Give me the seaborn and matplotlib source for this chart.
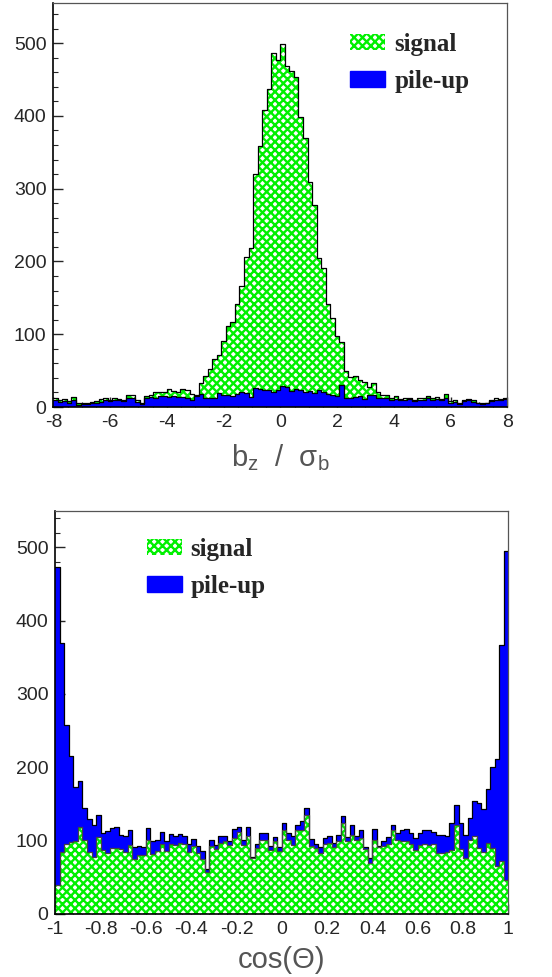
import numpy as np
import pandas as pd
import matplotlib
matplotlib.use("Agg")
import matplotlib.pyplot as plt
import seaborn as sns
from matplotlib.patches import Patch
from matplotlib.ticker import MultipleLocator, FuncFormatter

# top panel: b_z / sigma_b, 100 bins from -8 to 8
bz_total = [12, 10, 11, 8, 14, 5, 6, 6, 7, 8, 11, 13, 10, 12, 11, 9, 17, 16, 9, 6,
            15, 16, 20, 21, 21, 25, 22, 21, 25, 24, 18, 17,
            33, 42, 52, 66, 71, 91, 111, 117, 141, 166, 206, 218, 320, 359, 408, 437,
            487, 477, 499, 469, 462, 454, 399, 370, 309, 278, 205, 191, 142, 122, 97, 90,
            49, 41, 43, 37, 34, 27, 33, 21, 17,
            16, 12, 15, 11, 12, 13, 10, 13, 12, 15, 13, 14, 11, 18, 8, 9, 6, 10, 11, 9,
            6, 5, 6, 10, 12, 11, 12]
bz_pileup = [10, 7, 8, 6, 10, 3, 4, 4, 5, 6, 7, 10, 8, 10, 9, 8, 13, 12, 7, 4,
             13, 14, 13, 15, 15, 14, 15, 14, 14, 13, 9, 15,
             18, 13, 12, 13, 19, 17, 16, 15, 18, 20, 19, 14, 26, 25, 24, 24,
             21, 24, 29, 27, 22, 25, 24, 21, 22, 19, 23, 20, 18, 16, 15, 30,
             13, 12, 14, 15, 11, 17, 16, 13, 12,
             12, 10, 11, 9, 10, 11, 8, 9, 10, 12, 10, 11, 9, 12, 5, 7, 4, 8, 9, 7,
             5, 4, 5, 8, 10, 9, 11]

# bottom panel: cos(theta), 100 bins from -1 to 1
cos_total = [473, 369, 258, 215, 173, 182, 144, 130, 121, 135, 110, 113, 117, 118, 108, 107, 115, 92, 93,
             92, 117, 99, 101, 112, 99, 109, 106, 109, 106, 96, 102, 93, 86, 62, 101, 94, 106, 106, 99,
             116, 118, 101, 118, 78, 96, 111, 110, 93, 105, 92, 124, 111, 106, 121, 127, 144, 102, 96, 92,
             103, 106, 97, 108, 133, 105, 121, 106, 114, 91, 76, 116, 93, 99, 105,
             121, 110, 115, 116, 110, 103, 110, 114, 114, 112, 108, 108, 106, 124, 149, 124, 108, 131,
             154, 151, 143, 171, 201, 212, 367, 495]
cos_signal = [40, 84, 95, 98, 99, 119, 101, 85, 78, 105, 87, 83, 90, 90, 88, 85, 94, 75, 80,
              80, 101, 82, 86, 96, 86, 96, 94, 97, 96, 85, 93, 83, 75, 57, 93, 88, 97, 99, 94,
              103, 112, 94, 106, 76, 90, 101, 101, 87, 99, 86, 114, 101, 94, 115, 115, 135, 93, 90, 83,
              96, 97, 91, 99, 124, 99, 108, 101, 103, 88, 70, 101, 92, 93, 96,
              115, 101, 99, 100, 96, 87, 94, 96, 94, 96, 83, 83, 85, 87, 121, 88, 76, 101,
              106, 90, 85, 97, 90, 65, 72, 46]

labels = ["signal", "pile-up"]

GREEN = "#00f000"
BLUE = "#0000ff"

sns.set_style("ticks")
plt.rcParams["font.family"] = ["Liberation Sans", "DejaVu Sans"]
plt.rcParams["axes.unicode_minus"] = False
plt.rcParams["hatch.linewidth"] = 1.7


def hist(ax, edges, counts, face, hatch=None, line="black"):
    df = pd.DataFrame({"x": (edges[:-1] + edges[1:]) / 2, "n": counts})
    bins = list(edges)
    sns.histplot(data=df, x="x", weights="n", bins=bins, element="step", fill=True,
                 color=face, alpha=1, linewidth=0, ax=ax)
    poly = ax.collections[-1]
    if hatch:
        poly.set_facecolor("white")
        poly.set_edgecolor(face)
        poly.set_hatch(hatch)
        poly.set_linewidth(0)
    sns.histplot(data=df, x="x", weights="n", bins=bins, element="step", fill=False,
                 color=line, linewidth=0.9, ax=ax)


def style(ax, xmaj, xmin):
    ax.set_ylabel("")
    ax.xaxis.set_major_locator(MultipleLocator(xmaj))
    ax.xaxis.set_minor_locator(MultipleLocator(xmin))
    ax.yaxis.set_major_locator(MultipleLocator(100))
    ax.yaxis.set_minor_locator(MultipleLocator(20))
    ax.xaxis.set_major_formatter(FuncFormatter(lambda v, p: "%g" % round(v, 6)))
    ax.tick_params(which="both", direction="in", top=False, right=False, labelsize=14)
    ax.tick_params(which="major", length=7, width=1)
    ax.tick_params(which="minor", length=3.5, width=0.8)
    ax.tick_params(axis="x", pad=5)
    ax.tick_params(axis="y", pad=5)
    for s in ["left", "bottom"]:
        ax.spines[s].set_linewidth(1.2)
        ax.spines[s].set_color("black")
    for s in ["top", "right"]:
        ax.spines[s].set_linewidth(0.9)
        ax.spines[s].set_color("#555555")


def legend(ax, anchor):
    handles = [Patch(facecolor="white", edgecolor=GREEN, hatch="xxxx", linewidth=0),
               Patch(facecolor=BLUE, edgecolor=BLUE)]
    ax.legend(handles, labels, loc="upper left", bbox_to_anchor=anchor, frameon=False,
              borderpad=0, handlelength=1.4, handleheight=0.6, handletextpad=0.35,
              labelspacing=0.55, prop={"family": "Liberation Serif", "weight": "bold", "size": 18})


fig = plt.figure(figsize=(5.52, 9.77), dpi=100)
ax1 = fig.add_axes([0.0966, 0.5834, 0.8225, 0.4135])
ax2 = fig.add_axes([0.1002, 0.0645, 0.8207, 0.4128])

bz_edges = np.linspace(-8, 8, 101)
cos_edges = np.linspace(-1, 1, 101)

# top: total (signal on top of pile-up) hatched green, pile-up blue over it
hist(ax1, bz_edges, bz_total, GREEN, hatch="xxxx")
hist(ax1, bz_edges, bz_pileup, BLUE)
ax1.set_xlim(-8, 8)
ax1.set_ylim(0, 555)
style(ax1, 2, 0.5)
ax1.set_xlabel("b$_\\mathregular{z}$  /  σ$_\\mathregular{b}$", fontsize=21, color="#555555",
               labelpad=8)
legend(ax1, (0.627, 0.957))

# bottom: total (pile-up on top of signal) blue, signal hatched green over it
hist(ax2, cos_edges, cos_total, BLUE)
hist(ax2, cos_edges, cos_signal, GREEN, hatch="xxxx", line="#444444")
ax2.set_xlim(-1, 1)
ax2.set_ylim(0, 550)
style(ax2, 0.2, 0.04)
ax2.set_xlabel("cos(Θ)", fontsize=21, color="#555555", labelpad=6)
legend(ax2, (0.174, 0.963))

fig.savefig("out.png", dpi=100)
